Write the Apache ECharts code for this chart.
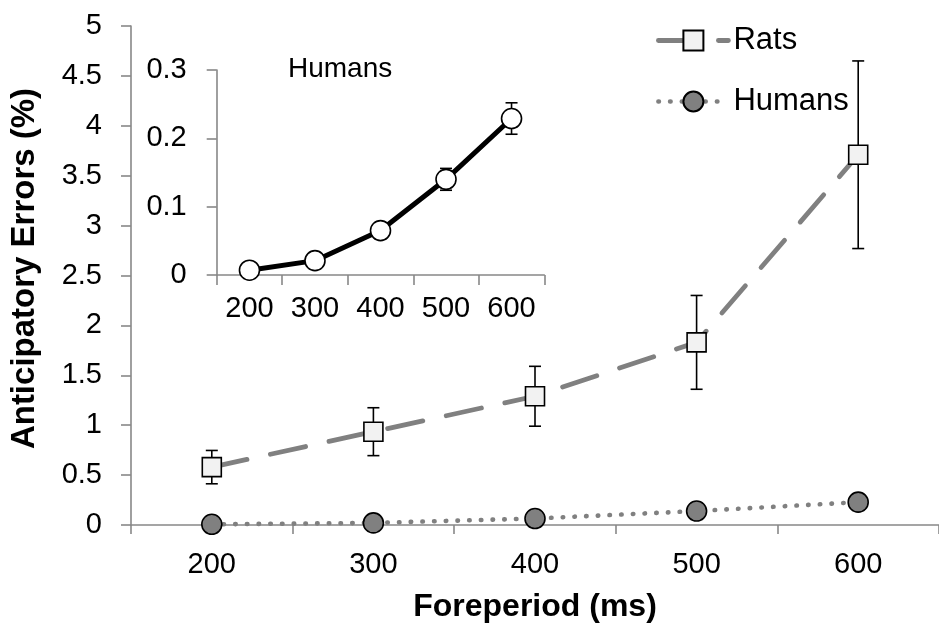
<!DOCTYPE html>
<html>
<head>
<meta charset="utf-8">
<script src="https://cdn.jsdelivr.net/npm/echarts@6/dist/echarts.min.js"></script>
<style>
  html, body { margin: 0; padding: 0; background: #fff; }
  #chart { width: 939px; height: 628px; }
</style>
</head>
<body>
<div id="chart"></div>
<script>
// Foreperiod categories (ms)
const foreperiods = ['200', '300', '400', '500', '600'];

// Rats: mean anticipatory errors (%) and error bar half-widths
const ratsMean = [0.58, 0.935, 1.29, 1.83, 3.71];
const ratsErr = [0.167, 0.24, 0.30, 0.47, 0.94];

// Humans: mean anticipatory errors (%) and error bar half-widths
const humansMean = [0.007, 0.021, 0.065, 0.14, 0.229];
const humansErr = [0.003, 0.004, 0.006, 0.016, 0.023];

// Axis tick settings
const mainYMax = 5, mainYStep = 0.5;
const insetYMax = 0.3, insetYStep = 0.1;

const FONT = "'Liberation Sans', Arial, sans-serif";
const AXIS_GREY = '#888888';

const ratsLine = { color: '#808080', width: 4.8, type: [36, 24], cap: 'round' };
const humansLine = { color: '#808080', width: 4.6, type: [0.5, 11.2], cap: 'round' };

function errorRows(mean, err) {
  return mean.map((m, i) => [i, m + err[i], m - err[i]]);
}

// Vertical error bar with short caps, positioned through the axes' own scales
function errorBarItem(params, api) {
  const idx = api.value(0);
  const hi = api.coord([idx, api.value(1)]);
  const lo = api.coord([idx, api.value(2)]);
  const hw = 6;
  const st = { stroke: '#000', lineWidth: 1.6 };
  return {
    type: 'group',
    children: [
      { type: 'line', shape: { x1: hi[0], y1: hi[1], x2: lo[0], y2: lo[1] }, style: st },
      { type: 'line', shape: { x1: hi[0] - hw, y1: hi[1], x2: hi[0] + hw, y2: hi[1] }, style: st },
      { type: 'line', shape: { x1: lo[0] - hw, y1: lo[1], x2: lo[0] + hw, y2: lo[1] }, style: st }
    ]
  };
}

const axisLine = { show: true, lineStyle: { color: AXIS_GREY, width: 1.6 } };
const axisTick = (len) => ({ show: true, length: len, lineStyle: { color: AXIS_GREY, width: 1.6 } });

const chart = echarts.init(document.getElementById('chart'), null, { renderer: 'canvas' });

chart.setOption({
  animation: false,
  backgroundColor: '#ffffff',
  textStyle: { fontFamily: FONT },
  grid: [
    { left: 122, right: -9.2, top: 26, bottom: 99 },
    { left: 216.7, right: 394.7, top: 70, bottom: 353 }
  ],
  legend: {
    orient: 'vertical',
    left: 651,
    top: 20,
    itemWidth: 70,
    itemHeight: 25,
    itemGap: 30,
    data: [
      { name: 'Rats', lineStyle: ratsLine },
      { name: 'Humans', lineStyle: humansLine }
    ],
    textStyle: { fontFamily: FONT, fontSize: 31, color: '#000', lineHeight: 31 }
  },
  title: {
    text: 'Humans',
    left: 288,
    top: 55,
    padding: 0,
    textStyle: { fontFamily: FONT, fontSize: 28, fontWeight: 'normal', color: '#000' }
  },
  xAxis: [
    {
      type: 'category',
      gridIndex: 0,
      data: foreperiods,
      boundaryGap: true,
      axisLine: axisLine,
      axisTick: axisTick(9),
      axisLabel: { fontFamily: FONT, fontSize: 29, color: '#000', margin: 25 },
      splitLine: { show: false },
      name: 'Foreperiod (ms)',
      nameLocation: 'middle',
      nameGap: 66,
      nameTextStyle: { fontFamily: FONT, fontSize: 32, fontWeight: 'bold', color: '#000' }
    },
    {
      type: 'category',
      gridIndex: 1,
      data: foreperiods,
      boundaryGap: true,
      axisLine: axisLine,
      axisTick: axisTick(10),
      axisLabel: { fontFamily: FONT, fontSize: 29, color: '#000', margin: 19 },
      splitLine: { show: false }
    }
  ],
  yAxis: [
    {
      type: 'value',
      gridIndex: 0,
      min: 0,
      max: mainYMax,
      interval: mainYStep,
      axisLine: axisLine,
      axisTick: axisTick(10),
      axisLabel: { fontFamily: FONT, fontSize: 29, color: '#000', margin: 29 },
      splitLine: { show: false },
      name: 'Anticipatory Errors (%)',
      nameLocation: 'middle',
      nameGap: 90,
      nameRotate: 90,
      nameTextStyle: { fontFamily: FONT, fontSize: 33, fontWeight: 'bold', color: '#000', padding: [0, 0, 0, 14] }
    },
    {
      type: 'value',
      gridIndex: 1,
      min: 0,
      max: insetYMax,
      interval: insetYStep,
      axisLine: axisLine,
      axisTick: axisTick(10),
      axisLabel: { fontFamily: FONT, fontSize: 29, color: '#000', margin: 30 },
      splitLine: { show: false }
    }
  ],
  series: [
    {
      name: 'Rats error',
      type: 'custom',
      xAxisIndex: 0,
      yAxisIndex: 0,
      renderItem: errorBarItem,
      data: errorRows(ratsMean, ratsErr),
      z: 1,
      silent: true
    },
    {
      name: 'Humans error',
      type: 'custom',
      xAxisIndex: 0,
      yAxisIndex: 0,
      renderItem: errorBarItem,
      data: errorRows(humansMean, humansErr),
      z: 1,
      silent: true
    },
    {
      name: 'Rats',
      type: 'line',
      xAxisIndex: 0,
      yAxisIndex: 0,
      data: ratsMean,
      symbol: 'rect',
      symbolSize: 19,
      showSymbol: true,
      lineStyle: ratsLine,
      itemStyle: { color: '#f2f2f2', borderColor: '#000', borderWidth: 1.6 },
      z: 3
    },
    {
      name: 'Humans',
      type: 'line',
      xAxisIndex: 0,
      yAxisIndex: 0,
      data: humansMean,
      symbol: 'circle',
      symbolSize: 20,
      lineStyle: humansLine,
      itemStyle: { color: '#808080', borderColor: '#000', borderWidth: 1.6 },
      z: 3
    },
    {
      name: 'Inset error',
      type: 'custom',
      xAxisIndex: 1,
      yAxisIndex: 1,
      renderItem: errorBarItem,
      data: errorRows(humansMean, humansErr),
      z: 1,
      silent: true
    },
    {
      name: 'Inset humans',
      type: 'line',
      xAxisIndex: 1,
      yAxisIndex: 1,
      data: humansMean,
      symbol: 'circle',
      symbolSize: 20,
      lineStyle: { color: '#000', width: 5 },
      itemStyle: { color: '#ffffff', borderColor: '#000', borderWidth: 1.6 },
      z: 3
    }
  ]
});
</script>
</body>
</html>
